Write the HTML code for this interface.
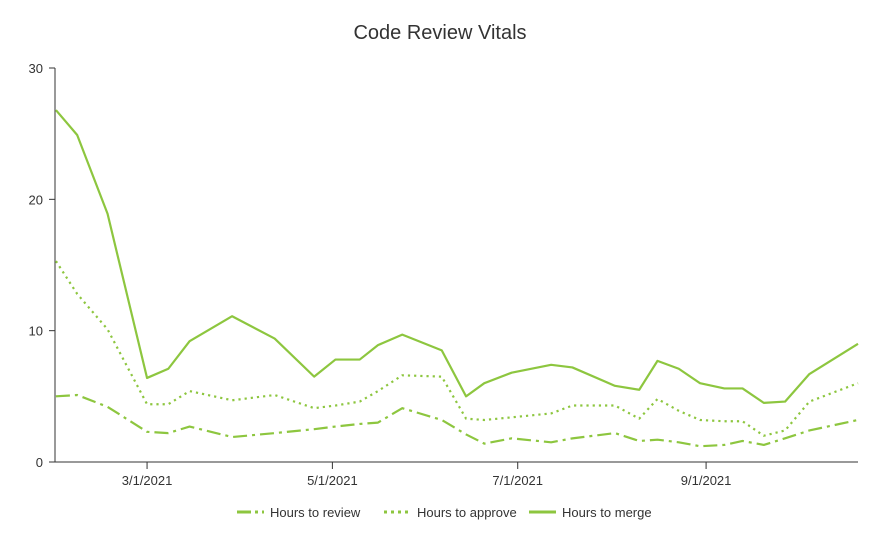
<!DOCTYPE html>
<html><head><meta charset="utf-8"><style>
body{margin:0;background:#fff;font-family:"Liberation Sans",sans-serif;}
svg{display:block}
</style></head><body>
<svg id="chart" width="880" height="541">
<text x="440" y="39" text-anchor="middle" font-size="20" fill="#333">Code Review Vitals</text>
<g id="axes"></g><g id="series"></g>
<g font-size="13" fill="#333">
 <g><line x1="237" y1="512" x2="264" y2="512" stroke="#8dc63f" stroke-width="3" stroke-dasharray="14,4,3,4"/><text x="270" y="517">Hours to review</text></g>
 <g><line x1="384" y1="512" x2="411" y2="512" stroke="#8dc63f" stroke-width="3" stroke-dasharray="3,4"/><text x="417" y="517">Hours to approve</text></g>
 <g><line x1="529" y1="512" x2="556" y2="512" stroke="#8dc63f" stroke-width="3"/><text x="562" y="517">Hours to merge</text></g>
</g>
</svg>
<script>
const days=[29,36,46,59,66,73,87,101,114,121,129,135,143,156,164,170,179,192,199,213,221,227,234,241,249,255,262,269,277,293];
const merge=[26.8,24.9,18.9,6.4,7.1,9.2,11.1,9.4,6.5,7.8,7.8,8.9,9.7,8.5,5.0,6.0,6.8,7.4,7.2,5.8,5.5,7.7,7.1,6.0,5.6,5.6,4.5,4.6,6.7,9.0];
const approve=[15.3,12.8,10.1,4.4,4.4,5.4,4.7,5.1,4.1,4.3,4.6,5.4,6.6,6.5,3.3,3.2,3.4,3.7,4.3,4.3,3.3,4.8,3.9,3.2,3.1,3.1,2.0,2.4,4.6,6.0];
const review=[5.0,5.1,4.2,2.3,2.2,2.7,1.9,2.2,2.5,2.7,2.9,3.0,4.1,3.2,2.1,1.4,1.8,1.5,1.8,2.2,1.6,1.7,1.5,1.2,1.3,1.6,1.3,1.8,2.4,3.2];
const yTicks=[0,10,20,30];
const xTickDays=[59,120,181,243];
const xTickLabels=["3/1/2021","5/1/2021","7/1/2021","9/1/2021"];
const NS="http://www.w3.org/2000/svg";
const X0=55,X1=858,Y0=462,Y1=68,D0=28.7,D1=293;
const xs=d=>X0+(d-D0)/(D1-D0)*(X1-X0);
const ys=v=>Y0-v/30*(Y0-Y1);
function mk(t,a,p){const e=document.createElementNS(NS,t);for(const k in a)e.setAttribute(k,a[k]);p.appendChild(e);return e;}
const ax=document.getElementById('axes');
const yl=mk('line',{x1:X0,y1:Y1,x2:X0,y2:Y0,stroke:'#333'},ax);


const xl=mk('line',{x1:X0,y1:Y0,x2:X1,y2:Y0,stroke:'#333'},ax);


yTicks.forEach(v=>{
 mk('line',{x1:X0-6,y1:ys(v),x2:X0,y2:ys(v),stroke:'#333'},ax);
 const t=mk('text',{x:X0-12,y:ys(v)+5,'text-anchor':'end','font-size':13,fill:'#333'},ax);
 
 
 t.textContent=v;
});
xTickDays.forEach((d,i)=>{
 mk('line',{x1:xs(d),y1:Y0,x2:xs(d),y2:Y0+7,stroke:'#333'},ax);
 const t=mk('text',{x:xs(d),y:Y0+23,'text-anchor':'middle','font-size':13,fill:'#333'},ax);
 
 
 t.textContent=xTickLabels[i];
});
const sg=document.getElementById('series');
function line(vals,dash,name){
 const p=mk('polyline',{points:vals.map((v,i)=>xs(days[i])+','+ys(v)).join(' '),fill:'none',stroke:'#8dc63f','stroke-width':2.2,'stroke-dasharray':dash,'stroke-linejoin':'round'},sg);
 
 
}
line(merge,'none','line-hours-to-merge');
line(approve,'2.2,4','line-hours-to-approve');
line(review,'14,5,3,5','line-hours-to-review');
</script>
</body></html>
